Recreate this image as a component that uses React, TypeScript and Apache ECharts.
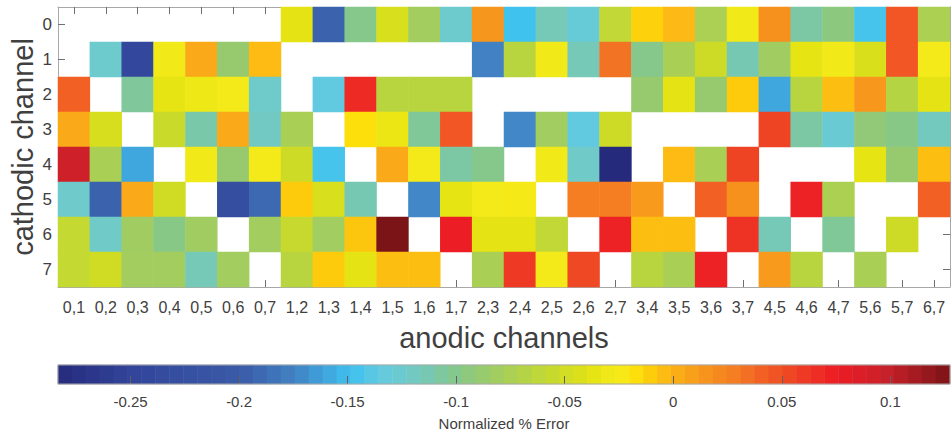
import React, { useEffect, useRef } from "react";
import * as echarts from "echarts";

const anodicChannels = [
  "0,1", "0,2", "0,3", "0,4", "0,5", "0,6", "0,7", "1,2", "1,3", "1,4", "1,5", "1,6", "1,7", "2,3",
  "2,4", "2,5", "2,6", "2,7", "3,4", "3,5", "3,6", "3,7", "4,5", "4,6", "4,7", "5,6", "5,7", "6,7",
];
const cathodicChannels = ["0", "1", "2", "3", "4", "5", "6", "7"];

const cathode0 = [null, null, null, null, null, null, null, -0.037, -0.195, -0.1, -0.045, -0.08, -0.125, 0.014, -0.147, -0.115, -0.13, -0.06, -0.012, -0.003, -0.075, -0.028, 0.017, -0.108, -0.095, -0.145, 0.046, -0.074];
const cathode1 = [null, -0.125, -0.24, -0.028, 0.004, -0.088, -0.004, null, null, null, null, null, null, -0.175, -0.066, -0.028, -0.115, 0.033, -0.1, -0.076, -0.052, -0.113, -0.082, -0.036, -0.028, -0.044, 0.046, -0.025];
const cathode2 = [0.041, null, -0.105, -0.036, -0.03, -0.025, -0.123, null, -0.135, 0.068, -0.066, -0.066, -0.066, null, null, null, null, null, -0.088, -0.037, -0.088, -0.01, -0.16, -0.066, -0.005, 0.013, -0.068, -0.037];
const cathode3 = [0.004, -0.046, null, -0.054, -0.11, 0.004, -0.12, -0.076, null, -0.017, -0.032, -0.104, 0.046, null, -0.172, -0.081, -0.135, -0.052, null, null, null, null, 0.055, -0.108, -0.128, -0.092, -0.098, -0.118];
const cathode4 = [0.095, -0.076, -0.16, null, -0.028, -0.088, -0.025, -0.052, -0.145, null, 0.004, -0.025, -0.108, -0.1, null, -0.028, -0.122, -0.283, null, -0.004, -0.076, 0.055, null, null, null, -0.036, -0.088, -0.005];
const cathode5 = [-0.124, -0.195, 0.004, -0.05, null, -0.228, -0.19, -0.01, -0.045, -0.113, null, -0.172, -0.036, -0.025, -0.024, null, 0.028, 0.028, 0.012, null, 0.041, 0.017, null, 0.072, -0.074, null, null, 0.041];
const cathode6 = [-0.058, -0.122, -0.082, -0.098, -0.082, null, -0.08, -0.056, -0.081, -0.008, 0.127, null, 0.075, -0.037, -0.037, -0.06, null, 0.072, -0.005, -0.005, null, 0.064, -0.115, null, -0.104, null, -0.052, null];
const cathode7 = [-0.058, -0.05, -0.08, -0.08, -0.115, -0.08, null, -0.066, -0.01, -0.037, -0.005, -0.005, null, -0.076, 0.06, -0.025, 0.053, null, -0.066, -0.076, 0.072, null, 0.012, -0.066, null, -0.076, null, null];

const errorRows = [cathode0, cathode1, cathode2, cathode3, cathode4, cathode5, cathode6, cathode7];

const colorbarMin = -0.2834;
const colorbarMax = 0.1275;
const colorbarTicks = [-0.25, -0.2, -0.15, -0.1, -0.05, 0, 0.05, 0.1];
const colorbarSteps = 64;

const colorStops: [number, string][] = [
  [-0.2834, "#262a7c"],
  [-0.25, "#32449a"],
  [-0.2, "#3a5aa8"],
  [-0.175, "#4280c2"],
  [-0.16, "#40a6de"],
  [-0.148, "#3ec2ef"],
  [-0.135, "#62cae0"],
  [-0.122, "#70cac8"],
  [-0.11, "#7ac8aa"],
  [-0.098, "#88c886"],
  [-0.082, "#a0cc62"],
  [-0.066, "#b8d540"],
  [-0.05, "#d0dc24"],
  [-0.036, "#e8e412"],
  [-0.025, "#f5eb1a"],
  [-0.017, "#fde00a"],
  [-0.01, "#fdcb0b"],
  [-0.003, "#fdb815"],
  [0.006, "#f9a51a"],
  [0.015, "#f7941d"],
  [0.029, "#f37c22"],
  [0.044, "#f15a24"],
  [0.06, "#ee3a24"],
  [0.075, "#ed1c24"],
  [0.098, "#c8202a"],
  [0.1275, "#7a1416"],
];

function hexToRgb(h: string) {
  return [parseInt(h.slice(1, 3), 16), parseInt(h.slice(3, 5), 16), parseInt(h.slice(5, 7), 16)];
}

function colorAt(v: number) {
  if (v <= colorStops[0][0]) return colorStops[0][1];
  for (let i = 1; i < colorStops.length; i++) {
    if (v <= colorStops[i][0]) {
      const [v0, c0] = colorStops[i - 1];
      const [v1, c1] = colorStops[i];
      const t = (v - v0) / (v1 - v0);
      const a = hexToRgb(c0);
      const b = hexToRgb(c1);
      const m = a.map((x, k) => Math.round(x + (b[k] - x) * t));
      return `rgb(${m[0]},${m[1]},${m[2]})`;
    }
  }
  return colorStops[colorStops.length - 1][1];
}

function buildPalette(n: number) {
  const out: string[] = [];
  for (let i = 0; i < n; i++) {
    out.push(colorAt(colorbarMin + ((colorbarMax - colorbarMin) * i) / (n - 1)));
  }
  return out;
}

const FONT = "'Liberation Sans', Arial, Helvetica, sans-serif";
const TEXT = "#404040";
const FRAME = "#a8a8a8";
const TICK = "#707070";

export default function App() {
  const ref = useRef<HTMLDivElement>(null);

  useEffect(() => {
    if (!ref.current) return;
    const chart = echarts.init(ref.current, undefined, { renderer: "svg" });

    const cells: [number, number, number][] = [];
    errorRows.forEach((row, r) => {
      row.forEach((v, c) => {
        if (v !== null && v !== undefined) cells.push([c, r, v as number]);
      });
    });

    const barCats: string[] = [];
    const barCells: [number, number, number][] = [];
    for (let i = 0; i < colorbarSteps; i++) {
      barCats.push(String(i));
      barCells.push([i, 0, colorbarMin + ((i + 0.5) * (colorbarMax - colorbarMin)) / colorbarSteps]);
    }

    const tickStyle = { show: true, inside: true, length: 7, alignWithLabel: true, lineStyle: { color: TICK, width: 1 } };
    const lineStyle = { show: true, lineStyle: { color: FRAME, width: 1 } };

    chart.setOption({
      animation: false,
      backgroundColor: "#ffffff",
      textStyle: { fontFamily: FONT },
      grid: [
        { left: 58, top: 7, width: 892, height: 280, containLabel: false },
        { left: 58, top: 365, width: 892, height: 19, containLabel: false },
      ],
      visualMap: {
        type: "continuous",
        show: false,
        min: colorbarMin,
        max: colorbarMax,
        dimension: 2,
        seriesIndex: [0, 1],
        inRange: { color: buildPalette(128) },
      },
      xAxis: [
        {
          type: "category",
          gridIndex: 0,
          position: "bottom",
          data: anodicChannels,
          axisLine: lineStyle,
          axisTick: tickStyle,
          axisLabel: { interval: 0, fontSize: 16, color: TEXT, margin: 12, fontFamily: FONT },
          splitLine: { show: false },
        },
        {
          type: "category",
          gridIndex: 0,
          position: "top",
          data: anodicChannels,
          axisLine: lineStyle,
          axisTick: tickStyle,
          axisLabel: { show: false },
          splitLine: { show: false },
        },
        {
          type: "category",
          gridIndex: 1,
          data: barCats,
          show: false,
        },
        {
          type: "value",
          gridIndex: 1,
          position: "bottom",
          min: colorbarMin,
          max: colorbarMax,
          splitNumber: 8,
          z: 50,
          axisLine: { show: false },
          axisTick: { show: true, inside: true, length: 8, customValues: colorbarTicks, lineStyle: { color: "#606060" } },
          axisLabel: {
            customValues: colorbarTicks,
            fontSize: 15,
            color: TEXT,
            margin: 10,
            fontFamily: FONT,
            formatter: (v: number) => (Math.abs(v) < 1e-9 ? "0" : String(Math.round(v * 100) / 100)),
          },
          splitLine: { show: false },
        },
      ],
      yAxis: [
        {
          type: "category",
          gridIndex: 0,
          position: "left",
          inverse: true,
          data: cathodicChannels,
          axisLine: lineStyle,
          axisTick: tickStyle,
          axisLabel: { fontSize: 17, color: TEXT, margin: 6, fontFamily: FONT },
          splitLine: { show: false },
        },
        {
          type: "category",
          gridIndex: 0,
          position: "right",
          inverse: true,
          data: cathodicChannels,
          axisLine: lineStyle,
          axisTick: tickStyle,
          axisLabel: { show: false },
          splitLine: { show: false },
        },
        {
          type: "category",
          gridIndex: 1,
          data: ["c"],
          show: false,
        },
      ],
      series: [
        {
          type: "heatmap",
          xAxisIndex: 0,
          yAxisIndex: 0,
          data: cells,
          itemStyle: { borderWidth: 0 },
          emphasis: { disabled: true },
        },
        {
          type: "heatmap",
          xAxisIndex: 2,
          yAxisIndex: 2,
          data: barCells,
          itemStyle: { borderWidth: 0 },
          emphasis: { disabled: true },
        },
      ],
      graphic: [
        {
          type: "rect",
          z: 100,
          silent: true,
          shape: { x: 58, y: 365, width: 892, height: 19 },
          style: { fill: "none", stroke: FRAME, lineWidth: 1 },
        },
        {
          type: "text",
          x: 23,
          y: 147,
          rotation: Math.PI / 2,
          style: {
            text: "cathodic channel",
            font: `29px ${FONT}`,
            fill: TEXT,
            align: "center",
            verticalAlign: "middle",
          },
        },
        {
          type: "text",
          x: 504,
          y: 338,
          style: {
            text: "anodic channels",
            font: `29px ${FONT}`,
            fill: TEXT,
            align: "center",
            verticalAlign: "middle",
          },
        },
        {
          type: "text",
          x: 504,
          y: 423,
          style: {
            text: "Normalized % Error",
            font: `15px ${FONT}`,
            fill: TEXT,
            align: "center",
            verticalAlign: "middle",
          },
        },
      ],
    });

    return () => chart.dispose();
  }, []);

  return <div ref={ref} style={{ position: "fixed", left: 0, top: 0, width: 952, height: 438 }} />;
}
